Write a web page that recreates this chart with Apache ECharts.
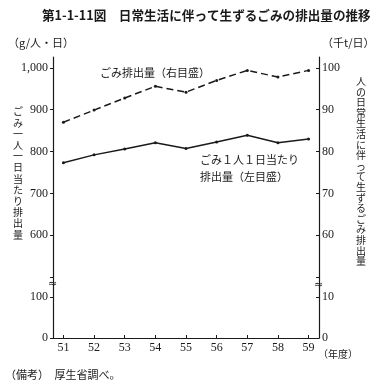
<!DOCTYPE html>
<html><head><meta charset="utf-8">
<script src="https://cdn.jsdelivr.net/npm/echarts@6/dist/echarts.min.js"></script>
<style>html,body{margin:0;padding:0;background:#fff}#c{width:380px;height:386px}</style>
</head><body><div id="c"></div>
<script>
const years = [51, 52, 53, 54, 55, 56, 57, 58, 59];
const perPerson = [773, 792, 806, 821, 807, 823, 839, 821, 830];      // g/人・日 (左目盛)
const totalWaste = [87.0, 89.9, 92.8, 95.6, 94.2, 97.0, 99.4, 97.8, 99.4]; // 千t/日 (右目盛)
const leftTicksUpper = [500, 600, 700, 800, 900, 1000];
const leftLabelsUpper = [600, 700, 800, 900, 1000];
const leftTicksLower = [0, 100];
const rightTicksUpper = [50, 60, 70, 80, 90, 100];
const rightLabelsUpper = [60, 70, 80, 90, 100];
const rightTicksLower = [0, 10];

const serif = 'Liberation Serif';
const ink = '#1a1a1a';
const axisCommon = {
  axisLine: { show: true, lineStyle: { color: ink, width: 1.2 } },
  splitLine: { show: false },
  axisLabel: { fontFamily: serif, fontSize: 12, color: ink, margin: 5 },
};
const fmtThousands = v => v >= 1000 ? Math.floor(v / 1000) + ',' + String(v % 1000).padStart(3, '0') : String(v);

const chart = echarts.init(document.getElementById('c'), null, { renderer: 'canvas' });
const vtext = s => s.split('').join('\n');

chart.setOption({
  backgroundColor: '#fff',
  animation: false,
  grid: [
    { left: 53, right: 61, top: 57, height: 220 },
    { left: 53, right: 61, top: 277, height: 61 }
  ],
  xAxis: [
    { gridIndex: 0, type: 'value', min: 50.66, max: 59.34, show: false },
    { gridIndex: 1, type: 'value', min: 50.66, max: 59.34,
      axisLine: { show: true, lineStyle: { color: ink, width: 1.2 } },
      splitLine: { show: false },
      axisTick: { show: true, inside: true, length: 3, customValues: years, lineStyle: { color: ink } },
      axisLabel: { customValues: years, fontFamily: serif, fontSize: 12, color: ink, margin: 4 } }
  ],
  yAxis: [
    Object.assign({}, axisCommon, { gridIndex: 0, type: 'value', position: 'left', min: 500, max: 1026,
      axisTick: { show: true, length: 3, customValues: leftTicksUpper, lineStyle: { color: ink } },
      axisLabel: Object.assign({}, axisCommon.axisLabel, { customValues: leftLabelsUpper, formatter: fmtThousands }) }),
    Object.assign({}, axisCommon, { gridIndex: 0, type: 'value', position: 'right', min: 50, max: 102.6,
      axisTick: { show: true, inside: true, length: 3, customValues: rightTicksUpper, lineStyle: { color: ink } },
      axisLabel: Object.assign({}, axisCommon.axisLabel, { customValues: rightLabelsUpper, margin: 3 }) }),
    Object.assign({}, axisCommon, { gridIndex: 1, type: 'value', position: 'left', min: 0, max: 149,
      axisTick: { show: true, length: 3, customValues: leftTicksLower, lineStyle: { color: ink } },
      axisLabel: Object.assign({}, axisCommon.axisLabel, { customValues: leftTicksLower }) }),
    Object.assign({}, axisCommon, { gridIndex: 1, type: 'value', position: 'right', min: 0, max: 14.9,
      axisTick: { show: true, inside: true, length: 3, customValues: rightTicksLower, lineStyle: { color: ink } },
      axisLabel: Object.assign({}, axisCommon.axisLabel, { customValues: rightTicksLower, margin: 3 }) })
  ],
  series: [
    { type: 'line', xAxisIndex: 0, yAxisIndex: 1, name: 'ごみ排出量（右目盛）',
      data: years.map((y, i) => [y, totalWaste[i]]),
      symbol: 'circle', symbolSize: 3, itemStyle: { color: ink },
      lineStyle: { color: ink, width: 1.5, type: [7, 4] } },
    { type: 'line', xAxisIndex: 0, yAxisIndex: 0, name: 'ごみ1人1日当たり排出量（左目盛）',
      data: years.map((y, i) => [y, perPerson[i]]),
      symbol: 'circle', symbolSize: 3, itemStyle: { color: ink },
      lineStyle: { color: ink, width: 1.5 } }
  ],
  graphic: [
    { type: 'text', left: 42, top: 9, style: { text: '第1-1-11図　日常生活に伴って生ずるごみの排出量の推移', font: 'bold 12.6px "Noto Sans CJK JP"', fill: ink } },
    { type: 'text', left: 8, top: 37, style: { text: '（g/人・日）', font: '11px "Noto Sans CJK JP"', fill: ink } },
    { type: 'text', left: 322, top: 37, style: { text: '（千t/日）', font: '11px "Noto Sans CJK JP"', fill: ink } },
    { type: 'text', left: 13, top: 106, style: { text: vtext('ごみ一人一日当たり排出量'), font: '10px "Noto Sans CJK JP"', lineHeight: 11.2, fill: ink } },
    { type: 'text', left: 356, top: 76, style: { text: vtext('人の日常生活に伴って生ずるごみ排出量'), font: '10px "Noto Sans CJK JP"', lineHeight: 10.6, fill: ink } },
    { type: 'text', left: 100, top: 67, style: { text: 'ごみ排出量（右目盛）', font: '11px "Noto Sans CJK JP"', fill: ink } },
    { type: 'text', left: 200, top: 151, style: { text: 'ごみ１人１日当たり\n排出量（左目盛）', font: '11px "Noto Sans CJK JP"', lineHeight: 17, fill: ink } },
    { type: 'text', left: 318, top: 349, style: { text: '（年度）', font: '10px "Noto Sans CJK JP"', fill: ink } },
    { type: 'text', left: 5, top: 369, style: { text: '（備考）　厚生省調べ。', font: '11px "Noto Sans CJK JP"', fill: ink } },
    { type: 'text', left: 48, top: 279, style: { text: '≈', font: '11px "DejaVu Sans"', fill: ink } },
    { type: 'text', left: 314, top: 280, style: { text: '≈', font: '11px "DejaVu Sans"', fill: ink } }
  ]
});
</script></body></html>
